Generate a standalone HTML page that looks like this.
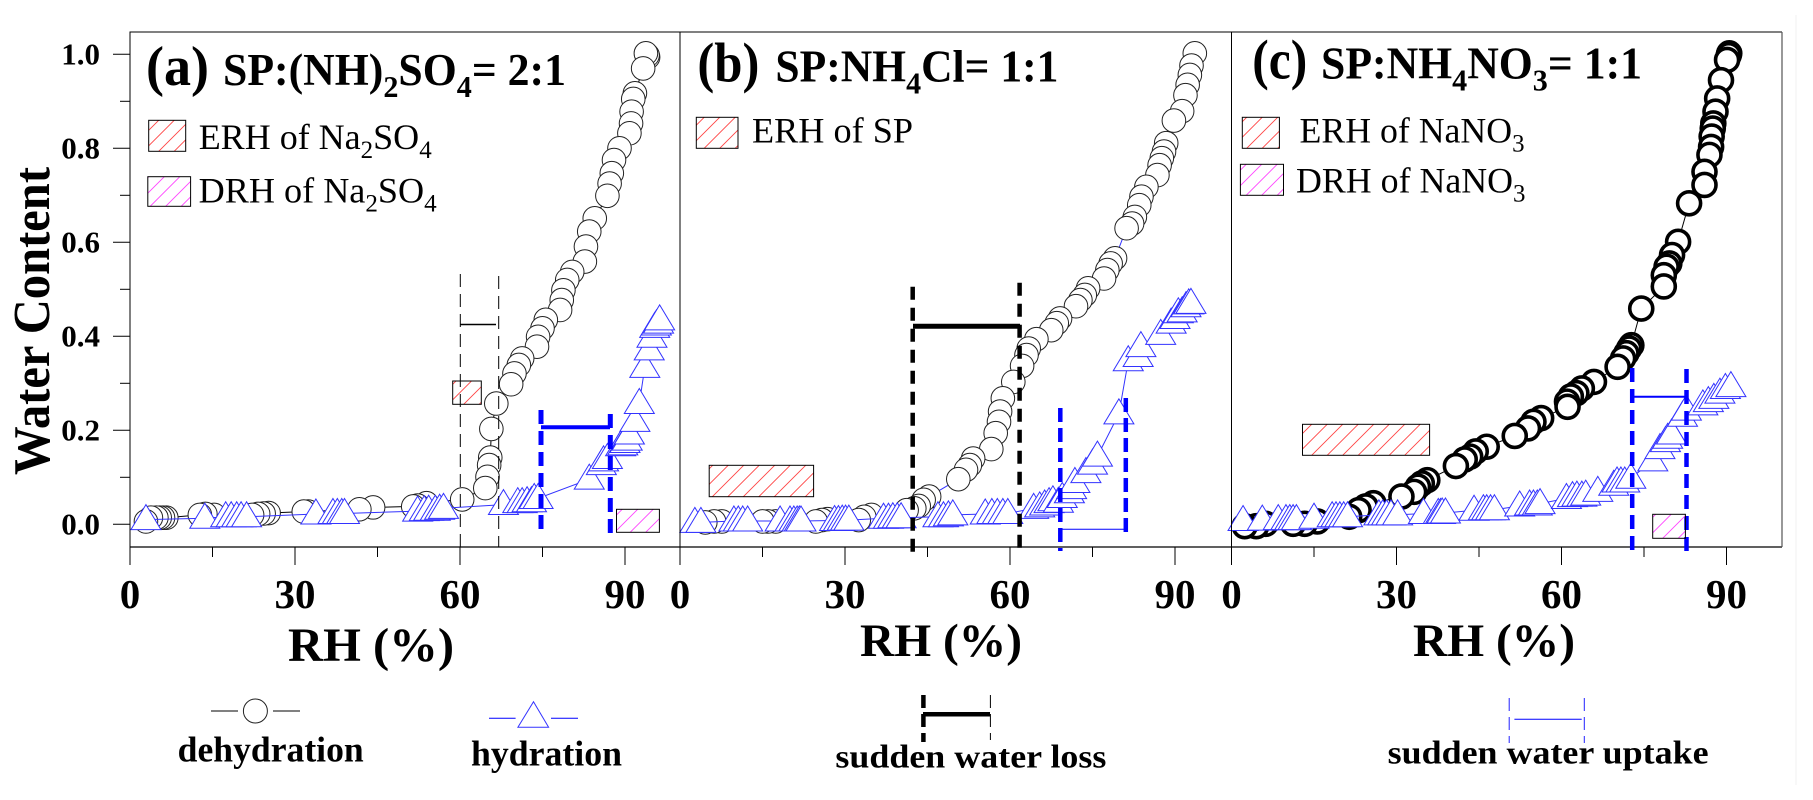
<!DOCTYPE html>
<html lang="en">
<head>
<meta charset="utf-8">
<title>Water content vs RH</title>
<style>
html,body{margin:0;padding:0;background:#fff;}
svg{display:block;font-family:"Liberation Serif",serif;}
</style>
</head>
<body>
<svg id="chart" xmlns="http://www.w3.org/2000/svg" width="1813" height="800" viewBox="0 0 1813 800">
<defs>
<pattern id="hatch-red" patternUnits="userSpaceOnUse" width="15.5" height="15.5"><path d="M-2 17.5L17.5 -2M-2 2L2 -2M13.5 17.5L17.5 13.5" stroke="#f44" stroke-width="0.9" fill="none"/></pattern>
<pattern id="hatch-magenta" patternUnits="userSpaceOnUse" width="15.5" height="15.5"><path d="M-2 17.5L17.5 -2M-2 2L2 -2M13.5 17.5L17.5 13.5" stroke="#f4f" stroke-width="0.9" fill="none"/></pattern>
</defs>
<rect width="1813" height="800" fill="#fff"/>
<line x1="1796" y1="15" x2="1796" y2="785" stroke="#f0f0f0"/>
<g id="series"></g>
<g id="axes"></g>

<g fill="none">
<path d="M460.3 274V547M498.7 276V547" stroke="#000" stroke-width="1" stroke-dasharray="13 7"/>
<line x1="460" y1="324.5" x2="496" y2="324.5" stroke="#000" stroke-width="1.5"/>
<rect x="452.7" y="381" width="28.6" height="23.3" fill="url(#hatch-red)" stroke="#000"/>
<path d="M541 410V535M610.3 414V540" stroke="#00f" stroke-width="5" stroke-dasharray="14 7"/>
<line x1="541" y1="427.3" x2="610" y2="427.3" stroke="#00f" stroke-width="4"/>
<rect x="616.5" y="509.3" width="42.9" height="23" fill="url(#hatch-magenta)" stroke="#000"/>
</g>
<g fill="none">
<path d="M912.7 286.7V558M1019.6 282.7V553" stroke="#000" stroke-width="4.5" stroke-dasharray="13 8"/>
<line x1="913" y1="326.3" x2="1020" y2="326.3" stroke="#000" stroke-width="5"/>
<rect x="709.2" y="465.3" width="104.4" height="31.4" fill="url(#hatch-red)" stroke="#000"/>
<path d="M1060.3 408V551M1125.8 398V536" stroke="#00f" stroke-width="4.5" stroke-dasharray="14 6"/>
<line x1="1060" y1="529.3" x2="1126" y2="529.3" stroke="#00f" stroke-width="1"/>
</g>
<g fill="none">
<path d="M1632.2 368V550M1686.5 369V551" stroke="#00f" stroke-width="4.5" stroke-dasharray="14 7"/>
<line x1="1632" y1="396.7" x2="1686" y2="396.7" stroke="#00f" stroke-width="2"/>
<rect x="1302.5" y="424.3" width="127.1" height="31" fill="url(#hatch-red)" stroke="#000"/>
<rect x="1652.7" y="514.3" width="32.7" height="24" fill="url(#hatch-magenta)" stroke="#000"/>
</g>

<g font-weight="bold" fill="#000">
<text x="146" y="85" font-size="56" textLength="63" lengthAdjust="spacingAndGlyphs">(a)</text>
<text x="223" y="85" font-size="45" textLength="343" lengthAdjust="spacingAndGlyphs">SP:(NH)<tspan font-size="31" dy="12">2</tspan><tspan dy="-12">SO</tspan><tspan font-size="31" dy="12">4</tspan><tspan dy="-12">= 2:1</tspan></text>
<text x="697.4" y="81.7" font-size="56" textLength="62" lengthAdjust="spacingAndGlyphs">(b)</text>
<text x="775.4" y="81.7" font-size="45" textLength="283" lengthAdjust="spacingAndGlyphs">SP:NH<tspan font-size="31" dy="12">4</tspan><tspan dy="-12">Cl= 1:1</tspan></text>
<text x="1252.3" y="78.3" font-size="56" textLength="55" lengthAdjust="spacingAndGlyphs">(c)</text>
<text x="1321" y="78.3" font-size="45" textLength="321" lengthAdjust="spacingAndGlyphs">SP:NH<tspan font-size="31" dy="12">4</tspan><tspan dy="-12">NO</tspan><tspan font-size="31" dy="12">3</tspan><tspan dy="-12">= 1:1</tspan></text>
</g>

<g fill="#000" font-size="36">
<rect x="148.7" y="120.3" width="37" height="31" fill="url(#hatch-red)" stroke="#000"/>
<text x="198.7" y="149" textLength="233" lengthAdjust="spacingAndGlyphs">ERH of Na<tspan font-size="25" dy="9">2</tspan><tspan dy="-9">SO</tspan><tspan font-size="25" dy="9">4</tspan></text>
<rect x="147.8" y="176.7" width="42.8" height="29.6" fill="url(#hatch-magenta)" stroke="#000"/>
<text x="198.7" y="202.3" textLength="238" lengthAdjust="spacingAndGlyphs">DRH of Na<tspan font-size="25" dy="9">2</tspan><tspan dy="-9">SO</tspan><tspan font-size="25" dy="9">4</tspan></text>
<rect x="696.3" y="117.3" width="41.7" height="31" fill="url(#hatch-red)" stroke="#000"/>
<text x="752" y="142.3" textLength="161" lengthAdjust="spacingAndGlyphs">ERH of SP</text>
<rect x="1242.3" y="117.3" width="37.1" height="31" fill="url(#hatch-red)" stroke="#000"/>
<text x="1299.5" y="142.3" textLength="225" lengthAdjust="spacingAndGlyphs">ERH of NaNO<tspan font-size="25" dy="9">3</tspan></text>
<rect x="1240.4" y="164.3" width="43.1" height="31" fill="url(#hatch-magenta)" stroke="#000"/>
<text x="1296" y="192.3" textLength="229.5" lengthAdjust="spacingAndGlyphs">DRH of NaNO<tspan font-size="25" dy="9">3</tspan></text>
</g>

<g font-weight="bold" fill="#000">
<text transform="translate(49,475) rotate(-90)" font-size="52" textLength="308" lengthAdjust="spacingAndGlyphs">Water Content</text>
<text x="288" y="661" font-size="48" textLength="166" lengthAdjust="spacingAndGlyphs">RH (%)</text>
<text x="860" y="656" font-size="47" textLength="162" lengthAdjust="spacingAndGlyphs">RH (%)</text>
<text x="1413" y="656" font-size="47" textLength="162" lengthAdjust="spacingAndGlyphs">RH (%)</text>
</g>

<g fill="none">
<g>
<path d="M211 711H238M273 711H300" stroke="#000" stroke-width="1"/>
<circle cx="255.4" cy="711" r="12" fill="#fff" stroke="#222" stroke-width="1"/>
<text x="177.7" y="761.7" font-size="35.5" font-weight="bold" fill="#000" stroke="none" textLength="186" lengthAdjust="spacingAndGlyphs">dehydration</text>
</g>
<g>
<path d="M489 718.3H515.6M551 718.3H578" stroke="#00f" stroke-width="1"/>
<path d="M533.5 701.7L548.6 727.3H517.9Z" fill="#fff" stroke="#33f" stroke-width="1"/>
<text x="471" y="765.7" font-size="35.5" font-weight="bold" fill="#000" stroke="none" textLength="151" lengthAdjust="spacingAndGlyphs">hydration</text>
</g>
<g>
<line x1="923.4" y1="695" x2="923.4" y2="742" stroke="#000" stroke-width="4.5" stroke-dasharray="13 6"/>
<line x1="990.4" y1="695" x2="990.4" y2="740" stroke="#000" stroke-width="1" stroke-dasharray="13 6"/>
<line x1="923" y1="714.3" x2="990" y2="714.3" stroke="#000" stroke-width="4.5"/>
<text x="835.4" y="767.7" font-size="33" font-weight="bold" fill="#000" stroke="none" textLength="271" lengthAdjust="spacingAndGlyphs">sudden water loss</text>
</g>
<g>
<line x1="1509.2" y1="698" x2="1509.2" y2="743" stroke="#22f" stroke-width="1" stroke-dasharray="13 6"/>
<line x1="1584.3" y1="698" x2="1584.3" y2="743" stroke="#22f" stroke-width="1" stroke-dasharray="13 6"/>
<line x1="1514.4" y1="719.3" x2="1581.7" y2="719.3" stroke="#00f" stroke-width="1"/>
<text x="1387.6" y="763.3" font-size="33" font-weight="bold" fill="#000" stroke="none" textLength="321" lengthAdjust="spacingAndGlyphs">sudden water uptake</text>
</g>
</g>
</svg>
<script>
const yTickValues = [0, 0.2, 0.4, 0.6, 0.8, 1.0];
const yTickLabels = ['0.0', '0.2', '0.4', '0.6', '0.8', '1.0'];
const yMinorValues = [0.1, 0.3, 0.5, 0.7, 0.9];
const xTickValues = [0, 30, 60, 90];
const xTickLabels = ['0', '30', '60', '90'];
const xMinorValues = [15, 45, 75];

const aDehydRH = [94.2,94.1,93.8,93.3,91.8,91.5,91.2,91.1,90.8,89.0,88.0,87.6,87.2,86.8,84.5,83.5,82.9,82.7,80.4,79.5,78.8,78.5,78.2,75.6,75.0,74.2,74.0,71.3,70.7,69.9,69.3,66.6,65.7,65.5,65.3,65.0,64.6,60.4,53.9,52.3,51.5,44.2,41.7,32.4,31.6,25.2,24.3,23.3,22.2,15.3,13.7,12.7,6.6,6.0,5.4,4.8,3.8,2.9];
const aDehydWater = [0.994,0.998,1.002,0.970,0.917,0.905,0.878,0.853,0.832,0.800,0.775,0.747,0.725,0.699,0.651,0.623,0.591,0.559,0.537,0.520,0.498,0.477,0.456,0.435,0.417,0.399,0.378,0.353,0.339,0.321,0.298,0.257,0.203,0.142,0.126,0.101,0.077,0.053,0.045,0.040,0.038,0.036,0.032,0.027,0.027,0.024,0.023,0.022,0.020,0.020,0.022,0.020,0.014,0.014,0.014,0.014,0.014,0.006];
const aHydRH = [2.9,13.6,17.4,18.4,19.4,20.2,21.2,33.8,36.9,37.7,38.5,39.0,52.3,53.5,54.3,55.5,56.3,57.0,67.9,70.5,71.3,72.2,73.0,73.5,74.2,83.5,85.7,86.1,86.8,89.2,89.6,90.0,90.4,90.8,91.8,92.6,93.6,94.4,94.9,95.4,95.7,96.1,96.3];
const aHydWater = [0.010,0.013,0.016,0.016,0.016,0.016,0.016,0.022,0.023,0.023,0.023,0.023,0.028,0.029,0.030,0.030,0.032,0.034,0.042,0.046,0.046,0.048,0.048,0.055,0.055,0.096,0.127,0.135,0.140,0.167,0.169,0.174,0.179,0.192,0.219,0.257,0.334,0.371,0.398,0.419,0.424,0.428,0.435];

const bDehydRH = [93.6,93.0,92.7,92.3,91.9,91.3,89.8,88.4,88.0,87.6,87.2,86.8,84.8,83.9,83.5,82.7,82.2,81.2,79.1,78.3,77.7,77.1,74.2,73.6,72.8,72.0,69.1,68.5,67.5,64.8,63.4,63.0,62.2,60.6,58.7,58.2,58.0,57.4,56.6,53.3,52.7,52.0,50.6,45.3,44.3,43.4,42.6,41.2,34.8,33.5,32.5,26.8,25.8,24.7,17.4,16.0,15.0,7.6,6.2,4.6];
const bDehydWater = [1.002,0.976,0.956,0.935,0.913,0.879,0.859,0.811,0.793,0.779,0.764,0.743,0.718,0.697,0.679,0.654,0.640,0.630,0.566,0.555,0.541,0.523,0.502,0.488,0.477,0.464,0.438,0.428,0.413,0.394,0.374,0.360,0.337,0.303,0.268,0.240,0.218,0.194,0.160,0.140,0.126,0.116,0.096,0.059,0.052,0.039,0.034,0.030,0.020,0.016,0.009,0.011,0.009,0.006,0.006,0.006,0.006,0.006,0.006,0.004];
const bHydRH = [2.7,3.8,9.8,10.6,11.4,12.3,18.2,20.0,20.7,21.3,21.7,22.0,28.1,28.8,29.5,30.1,30.7,37.0,37.9,38.7,39.5,40.2,46.9,47.9,48.8,49.6,55.5,56.7,57.7,58.7,59.6,64.3,65.4,66.3,67.1,67.8,68.8,69.5,70.8,71.2,71.8,73.8,75.0,75.9,79.8,81.5,83.3,83.8,87.4,89.3,90.0,90.6,91.3,92.0,92.5,92.9];
const bHydWater = [0.004,0.004,0.007,0.007,0.007,0.007,0.007,0.007,0.007,0.007,0.007,0.007,0.008,0.008,0.009,0.009,0.009,0.013,0.013,0.014,0.014,0.014,0.016,0.016,0.018,0.020,0.022,0.023,0.023,0.023,0.023,0.034,0.037,0.041,0.046,0.050,0.047,0.057,0.067,0.076,0.089,0.110,0.128,0.145,0.235,0.348,0.357,0.378,0.404,0.428,0.438,0.450,0.452,0.463,0.469,0.470];

const cDehydRH = [90.5,90.4,90.1,89.0,88.3,88.0,87.6,87.5,87.3,87.2,86.9,86.0,86.0,83.2,81.2,80.1,79.6,79.1,78.6,78.6,74.5,72.7,72.3,71.8,71.2,70.2,65.9,63.7,62.7,61.7,61.0,61.1,56.3,54.9,53.9,51.5,46.4,44.4,43.4,42.4,40.8,35.6,34.6,33.9,33.2,30.9,25.8,24.4,23.1,21.4,15.6,13.3,11.2,6.2,4.5,2.4];
const cDehydWater = [1.002,0.998,0.988,0.945,0.906,0.878,0.853,0.842,0.825,0.803,0.786,0.750,0.722,0.683,0.601,0.573,0.555,0.548,0.530,0.506,0.459,0.381,0.374,0.364,0.353,0.335,0.303,0.289,0.279,0.272,0.261,0.250,0.226,0.218,0.204,0.188,0.165,0.155,0.144,0.138,0.124,0.094,0.087,0.080,0.069,0.059,0.045,0.038,0.030,0.016,0.006,0.001,0.001,0.001,-0.004,-0.004];
const cHydRH = [2.1,5.6,8.5,9.9,10.6,11.2,11.8,15.0,18.3,19.0,19.7,20.4,21.1,26.8,27.5,28.2,29.0,30.2,34.9,37.6,38.0,38.3,38.9,44.1,45.8,46.4,47.1,47.8,52.4,54.2,54.9,55.6,56.1,60.9,62.0,62.8,63.7,64.4,66.6,69.5,70.1,70.8,71.5,72.6,76.6,77.9,78.9,79.3,80.0,82.0,82.7,85.7,86.7,87.7,88.8,89.8,90.8];
const cHydWater = [0.008,0.009,0.010,0.010,0.010,0.010,0.010,0.013,0.016,0.016,0.016,0.016,0.016,0.020,0.020,0.020,0.020,0.020,0.023,0.023,0.023,0.024,0.024,0.030,0.031,0.031,0.031,0.031,0.039,0.041,0.041,0.041,0.044,0.055,0.059,0.060,0.060,0.062,0.070,0.083,0.090,0.090,0.090,0.098,0.135,0.161,0.176,0.183,0.192,0.230,0.243,0.254,0.261,0.268,0.279,0.289,0.293];

const NS = 'http://www.w3.org/2000/svg';
const PLOT_TOP = 32, PLOT_BOTTOM = 547, PLOT_LEFT = 130, PLOT_RIGHT = 1782;
const PANEL_ORIGIN = { a: 130, b: 680, c: 1231.5 };

function yScale(w) { return 524.3 - 470 * w; }
function xScale(panel, rh) { return PANEL_ORIGIN[panel] + 5.5 * rh; }

function make(tag, attrs, parent) {
  const node = document.createElementNS(NS, tag);
  for (const k in attrs) node.setAttribute(k, attrs[k]);
  parent.appendChild(node);
  return node;
}

const seriesRoot = document.getElementById('series');
const axesRoot = document.getElementById('axes');

function drawPanel(panel, dRH, dW, hRH, hW, circleStroke, dehydLine) {
  const g = make('g', {}, seriesRoot);
  
  

  const dPts = dRH.map((v, i) => xScale(panel, v).toFixed(1) + ',' + yScale(dW[i]).toFixed(1)).join(' ');
  const dLine = make('polyline', { points: dPts, fill: 'none', stroke: dehydLine, 'stroke-width': 1 }, g);
  
  
  dRH.forEach((v, i) => {
    const c = make('circle', { cx: xScale(panel, v), cy: yScale(dW[i]), r: circleStroke > 2 ? 11.5 : 11.8, fill: '#fff', stroke: circleStroke > 2 ? '#000' : '#222', 'stroke-width': circleStroke }, g);
    
    
  });

  const hPts = hRH.map((v, i) => xScale(panel, v).toFixed(1) + ',' + yScale(hW[i]).toFixed(1)).join(' ');
  const hLine = make('polyline', { points: hPts, fill: 'none', stroke: '#33f', 'stroke-width': 1 }, g);
  
  
  hRH.forEach((v, i) => {
    const x = xScale(panel, v), y = yScale(hW[i]);
    const t = make('path', { d: 'M' + x + ' ' + (y - 15) + 'L' + (x + 15) + ' ' + (y + 10) + 'H' + (x - 15) + 'Z', fill: '#fff', stroke: '#33f', 'stroke-width': 1 }, g);
    
    
  });
}

drawPanel('a', aDehydRH, aDehydWater, aHydRH, aHydWater, 1, '#000');
drawPanel('b', bDehydRH, bDehydWater, bHydRH, bHydWater, 1, '#33f');
drawPanel('c', cDehydRH, cDehydWater, cHydRH, cHydWater, 3.6, '#000');

const frame = make('path', {
  d: 'M' + PLOT_LEFT + ' ' + PLOT_BOTTOM + 'V' + PLOT_TOP + 'H' + PLOT_RIGHT,
  fill: 'none', stroke: '#000', 'stroke-width': 1
}, axesRoot);



const bottomAxis = make('line', { x1: PLOT_LEFT, y1: PLOT_BOTTOM, x2: PLOT_RIGHT, y2: PLOT_BOTTOM, stroke: '#000', 'stroke-width': 1.2 }, axesRoot);



const rightEdge = make('line', { x1: PLOT_RIGHT, y1: PLOT_TOP, x2: PLOT_RIGHT, y2: PLOT_BOTTOM, stroke: '#555', 'stroke-width': 1.2 }, axesRoot);



['b', 'c'].forEach(p => {
  const d = make('line', { x1: PANEL_ORIGIN[p], y1: PLOT_TOP, x2: PANEL_ORIGIN[p], y2: PLOT_BOTTOM, stroke: '#000', 'stroke-width': 1 }, axesRoot);
  
  
});

yTickValues.forEach((v, i) => {
  const y = yScale(v);
  const t = make('line', { x1: 113, y1: y, x2: PLOT_LEFT, y2: y, stroke: '#000', 'stroke-width': 1 }, axesRoot);
  
  
  const l = make('text', { x: 100, y: y + 10, 'text-anchor': 'end', 'font-size': 31, 'font-weight': 'bold', fill: '#000' }, axesRoot);
  l.textContent = yTickLabels[i];
  
  
});
yMinorValues.forEach(v => {
  const y = yScale(v);
  const t = make('line', { x1: 120, y1: y, x2: PLOT_LEFT, y2: y, stroke: '#000', 'stroke-width': 1 }, axesRoot);
  
  
});

['a', 'b', 'c'].forEach(p => {
  xTickValues.forEach((v, i) => {
    const x = xScale(p, v);
    const t = make('line', { x1: x, y1: PLOT_BOTTOM, x2: x, y2: 565, stroke: '#000', 'stroke-width': 1 }, axesRoot);
    
    
    const l = make('text', { x: x, y: 608, 'text-anchor': 'middle', 'font-size': 41, 'font-weight': 'bold', fill: '#000' }, axesRoot);
    l.textContent = xTickLabels[i];
    
    
  });
  xMinorValues.forEach(v => {
    const x = xScale(p, v);
    const t = make('line', { x1: x, y1: PLOT_BOTTOM, x2: x, y2: 557, stroke: '#000', 'stroke-width': 1 }, axesRoot);
    
    
  });
});
</script>
</body>
</html>
